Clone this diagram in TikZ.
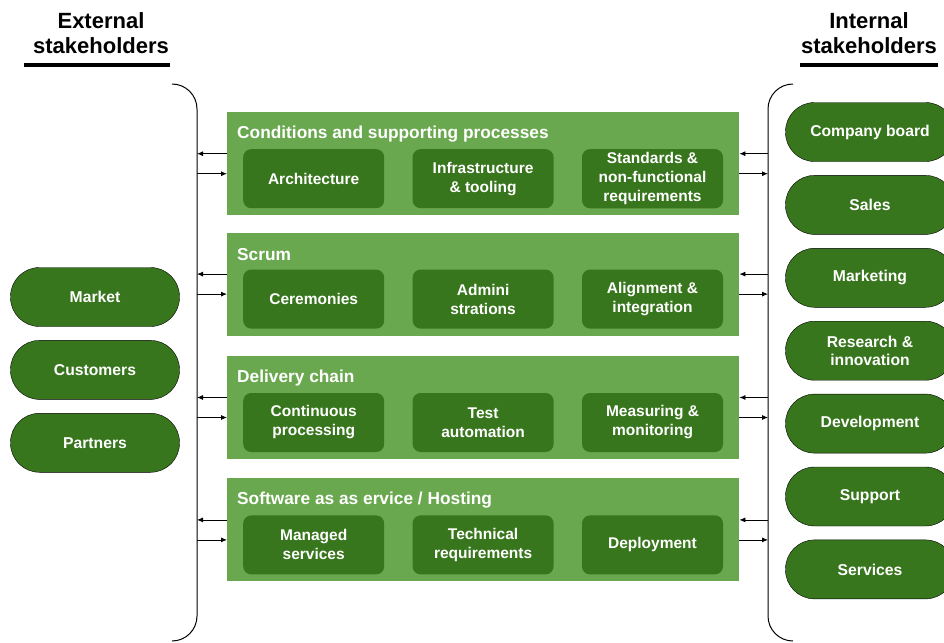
\documentclass[tikz,border=0pt]{standalone}
\usepackage{fontspec}
\setmainfont{Liberation Sans}
\usetikzlibrary{arrows.meta,positioning}
\definecolor{leaf}{HTML}{6AA84F}
\definecolor{forest}{HTML}{38761D}
\tikzset{
  panel/.style={
      rectangle, fill=leaf, anchor=north west,
      minimum width=512pt, minimum height=103pt,
  },
  heading/.style={
      inner sep=0pt, text=white,
      font=\bfseries\fontsize{17.3}{20}\selectfont,
  },
  task/.style={
      rectangle, fill=forest, rounded corners=8pt,
      minimum width=141pt, minimum height=59pt,
      text=white, align=center,
      font=\bfseries\fontsize{15.5}{19}\selectfont,
  },
  actor/.style={
      rectangle, draw, fill=forest, rounded corners=29pt,
      minimum width=169pt, minimum height=59pt,
      text=white, align=center,
      font=\bfseries\fontsize{15.7}{18}\selectfont,
  },
  header/.style={
      align=center, font=\bfseries\fontsize{22}{25}\selectfont,
  },
  link/.style={
    draw, -{Latex[length=6pt,width=5pt]}, line width=0.8pt,
  },
  brace/.style={
    draw, line width=1pt, rounded corners=25pt,
  },
  rule/.style={
    draw, line width=4pt,
  }
}

\begin{document}
\begin{tikzpicture}[x=1pt,y=-1pt]
\useasboundingbox (0,0) rectangle (944,642);

% headers
\node [header] (external) at (101,33) {External\\stakeholders};
\draw [rule] (24,65) -- (170,65);
\node [header] (internal) at (869,33) {Internal\\stakeholders};
\draw [rule] (800,65) -- (938,65);

% braces
\coordinate (leftbar) at (197,362);
\coordinate (rightbar) at (768,362);
\draw [brace] (172,84) -| (leftbar) |- (172,641);
\draw [brace] (793,84) -| (rightbar) |- (793,641);

% panels
\node [panel] (conditions) at (227,112) {};
\node [panel, below=17pt of conditions] (scrum) {};
\node [panel, below=20pt of scrum] (delivery) {};
\node [panel, below=19pt of delivery] (saas) {};

\node [heading, anchor=west] (conditionstitle) at ([xshift=10pt,yshift=-22pt]conditions.north west) {Conditions and supporting processes};
\node [heading, anchor=west] (scrumtitle) at ([xshift=10pt,yshift=-22pt]scrum.north west) {Scrum};
\node [heading, anchor=west] (deliverytitle) at ([xshift=10pt,yshift=-22pt]delivery.north west) {Delivery chain};
\node [heading, anchor=west] (saastitle) at ([xshift=10pt,yshift=-22pt]saas.north west) {Software as as ervice / Hosting};

\node [task, below right=37pt and 16pt of conditions.north west] (architecture) {Architecture};
\node [task, right=28pt of architecture] (infrastructure) {Infrastructure\\\& tooling};
\node [task, right=28pt of infrastructure] (standards) {Standards \&\\non-functional\\requirements};

\node [task, below right=37pt and 16pt of scrum.north west] (ceremonies) {Ceremonies};
\node [task, right=28pt of ceremonies] (administrations) {Admini\\strations};
\node [task, right=28pt of administrations] (alignment) {Alignment \&\\integration};

\node [task, below right=37pt and 16pt of delivery.north west] (continuous) {Continuous\\processing};
\node [task, right=28pt of continuous] (testing) {Test\\automation};
\node [task, right=28pt of testing] (measuring) {Measuring \&\\monitoring};

\node [task, below right=37pt and 16pt of saas.north west] (managed) {Managed\\services};
\node [task, right=28pt of managed] (technical) {Technical\\requirements};
\node [task, right=28pt of technical] (deployment) {Deployment};

% stakeholders
\node [actor] (market) at (95,297) {Market};
\node [actor, below=13.5pt of market] (customers) {Customers};
\node [actor, below=13.5pt of customers] (partners) {Partners};

\node [actor] (board) at (870,132) {Company board};
\node [actor, below=13.5pt of board] (sales) {Sales};
\node [actor, below=13.5pt of sales] (marketing) {Marketing};
\node [actor, below=13.5pt of marketing] (research) {Research \&\\innovation};
\node [actor, below=13.5pt of research] (development) {Development};
\node [actor, below=13.5pt of development] (support) {Support};
\node [actor, below=13.5pt of support] (services) {Services};

% exchanges
\draw [link] ([yshift=10pt]conditions.west) -- ([yshift=10pt]conditions.west -| leftbar);
\draw [link] ([yshift=-10pt]conditions.west -| leftbar) -- ([yshift=-10pt]conditions.west);
\draw [link] ([yshift=10pt]conditions.east -| rightbar) -- ([yshift=10pt]conditions.east);
\draw [link] ([yshift=-10pt]conditions.east) -- ([yshift=-10pt]conditions.east -| rightbar);

\draw [link] ([yshift=10pt]scrum.west) -- ([yshift=10pt]scrum.west -| leftbar);
\draw [link] ([yshift=-10pt]scrum.west -| leftbar) -- ([yshift=-10pt]scrum.west);
\draw [link] ([yshift=10pt]scrum.east -| rightbar) -- ([yshift=10pt]scrum.east);
\draw [link] ([yshift=-10pt]scrum.east) -- ([yshift=-10pt]scrum.east -| rightbar);

\draw [link] ([yshift=10pt]delivery.west) -- ([yshift=10pt]delivery.west -| leftbar);
\draw [link] ([yshift=-10pt]delivery.west -| leftbar) -- ([yshift=-10pt]delivery.west);
\draw [link] ([yshift=10pt]delivery.east -| rightbar) -- ([yshift=10pt]delivery.east);
\draw [link] ([yshift=-10pt]delivery.east) -- ([yshift=-10pt]delivery.east -| rightbar);

\draw [link] ([yshift=10pt]saas.west) -- ([yshift=10pt]saas.west -| leftbar);
\draw [link] ([yshift=-10pt]saas.west -| leftbar) -- ([yshift=-10pt]saas.west);
\draw [link] ([yshift=10pt]saas.east -| rightbar) -- ([yshift=10pt]saas.east);
\draw [link] ([yshift=-10pt]saas.east) -- ([yshift=-10pt]saas.east -| rightbar);
\end{tikzpicture}
\end{document}
